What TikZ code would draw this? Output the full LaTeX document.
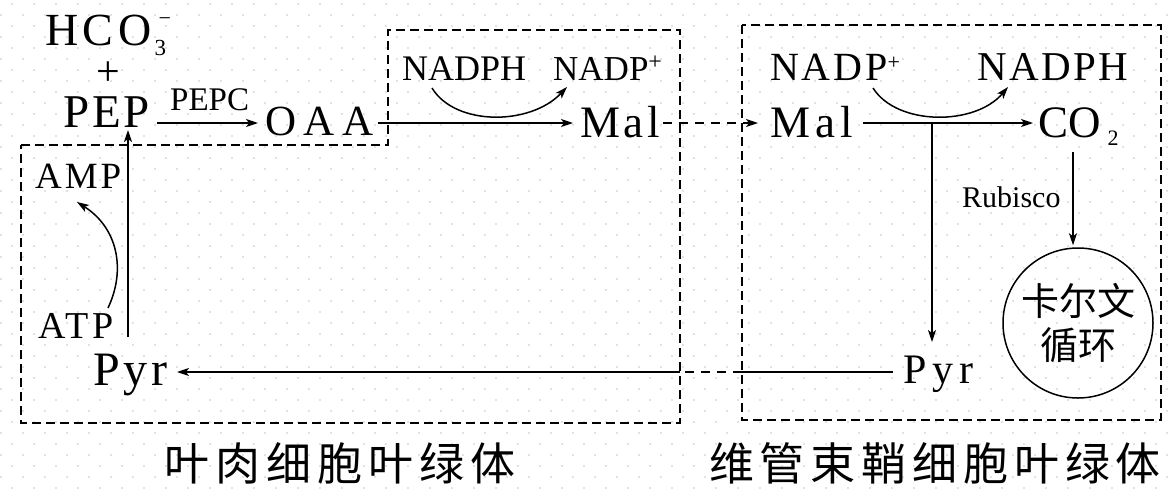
\documentclass[tikz,border=0pt]{standalone}
\usepackage{fontspec}
\setmainfont{Liberation Serif}
\newfontfamily\cjk{Noto Sans CJK SC}
\usetikzlibrary{arrows.meta,calc}
\newcommand\myfs[2]{\fontsize{#1}{#1}\selectfont\addfontfeature{LetterSpace=#2}}
\definecolor{dotc}{RGB}{228,228,208}
\begin{document}
\begin{tikzpicture}[x=1pt,y=-1pt,
  lbl/.style={inner sep=0pt, anchor=base west},
  arr/.style={line width=1.5pt, -{Stealth[length=12pt,width=8pt,inset=3pt]}},
  ln/.style={line width=1.5pt},
  box/.style={line width=1.5pt, dash pattern=on 9pt off 5pt},
  dsh/.style={line width=1.5pt, dash pattern=on 9pt off 7pt}]
\path[use as bounding box, fill=white] (0,0) rectangle (1168,488);
% faint dotted paper
\foreach \i in {0,...,53}{\foreach \j in {0,...,22}{
  \fill[dotc] (11+22*\i,3+22*\j) rectangle ++(2,2);
  \fill[dotc] (0+22*\i,14+22*\j) rectangle ++(2,2);
}}
% chloroplast boxes
\draw[box] (21,145) -- (388,145) -- (388,30) -- (680,30) -- (680,423) -- (21,423) -- cycle;
\draw[box] (742,25) rectangle (1161,420);
% texts
\node[lbl] (hco) at (45,45) {\myfs{46}{10}HCO\makebox[0pt][l]{\hspace{3pt}\raisebox{-10pt}{\myfs{23}{0}3}}\makebox[0pt][l]{\hspace{7pt}\raisebox{20pt}{\myfs{22}{0}−}}};
\node[anchor=center, inner sep=0pt] (plus) at (108,74) {\myfs{42}{0}+};
\node[lbl] (pep) at (63,127) {\myfs{47}{6}PEP};
\node[lbl] (pepc) at (170,110) {\myfs{33}{0}PEPC};
\node[lbl] (oaa) at (265,135) {\myfs{43}{18}OAA};
\node[lbl] (nadph1) at (402,80) {\myfs{36}{0}NADPH};
\node[lbl] (nadp1) at (553,80) {\myfs{35}{0}NADP\raisebox{11pt}{\myfs{24}{0}+}};
\node[lbl] (mall) at (580,137) {\myfs{45}{8}Mal};
\node[lbl] (malr) at (770,137) {\myfs{45}{12}Mal};
\node[lbl] (nadp2) at (770,80) {\myfs{40}{7}NADP\raisebox{11pt}{\myfs{22}{0}+}};
\node[lbl] (nadph2) at (977,80) {\myfs{41}{6}NADPH};
\node[lbl] (co2) at (1038,137) {\myfs{45}{0}CO\hspace{7pt}\raisebox{-8pt}{\myfs{22}{0}2}};
\node[lbl] (rub) at (962,207) {\myfs{30}{0}Rubisco};
\node[lbl] (amp) at (35,188) {\myfs{37}{8}AMP};
\node[lbl] (atp) at (38,338) {\myfs{38}{10}ATP};
\node[lbl] (pyrl) at (93,385) {\myfs{48}{8}Pyr};
\node[lbl] (pyrr) at (903,383) {\myfs{42}{14}Pyr};
\node[circle, draw, line width=1.5pt, minimum size=150pt, inner sep=0pt, align=center,
      font=\cjk\fontsize{38}{44}\selectfont] (cyc) at (1078,323) {卡尔文\\循环};
\node[inner sep=0pt, font=\cjk\fontsize{45}{45}\selectfont\addfontfeature{LetterSpace=13}] (lab1) at (340,463) {叶肉细胞叶绿体};
\node[inner sep=0pt, font=\cjk\fontsize{45}{45}\selectfont\addfontfeature{LetterSpace=13}] (lab2) at (935,463) {维管束鞘细胞叶绿体};
% connectors
\draw[arr] ($(pep.base west)+(94,-4)$) -- ($(oaa.base west)+(-7,-12)$);
\draw[arr] ($(oaa.base west)+(113,-12)$) -- ($(mall.base west)+(-7,-14)$);
\draw[dsh,-{Stealth[length=12pt,width=8pt,inset=3pt]}] ($(mall.base west)+(83,-14)$) -- ($(malr.base west)+(-12,-14)$);
\draw[arr] ($(malr.base west)+(93,-14)$) -- ($(co2.base west)+(-5,-14)$);
\draw[arr] ($(malr.base west)+(162,-14)$) -- ($(pyrr.base west)+(29,-41)$);
\draw[arr] ($(co2.base west)+(35,15)$) -- ($(cyc.north)+(-5,-2)$);
\draw[arr] ($(atp.base west)+(90,-1)$) -- ($(pep.base west)+(65,3)$);
\draw[arr] ($(atp.base west)+(70,-30)$) .. controls +(18,-38) and +(41,26) .. ($(amp.base west)+(42,14)$);
\draw[arr] ($(nadph1.base west)+(30,8)$) .. controls +(23,38) and +(-37,39) .. ($(nadp1.base west)+(14,7)$);
\draw[arr] ($(nadp2.base west)+(103,8)$) .. controls +(24,38) and +(-33,39) .. ($(nadph2.base west)+(31,7)$);
\coordinate (e1) at (742,372);
\coordinate (e2) at (680,372);
\draw[ln] ($(pyrr.base west)+(-10,-11)$) -- (e1);
\draw[dsh] (e1) -- (e2);
\draw[arr] (e2) -- ($(pyrl.base west)+(84,-13)$);
\end{tikzpicture}
\end{document}
